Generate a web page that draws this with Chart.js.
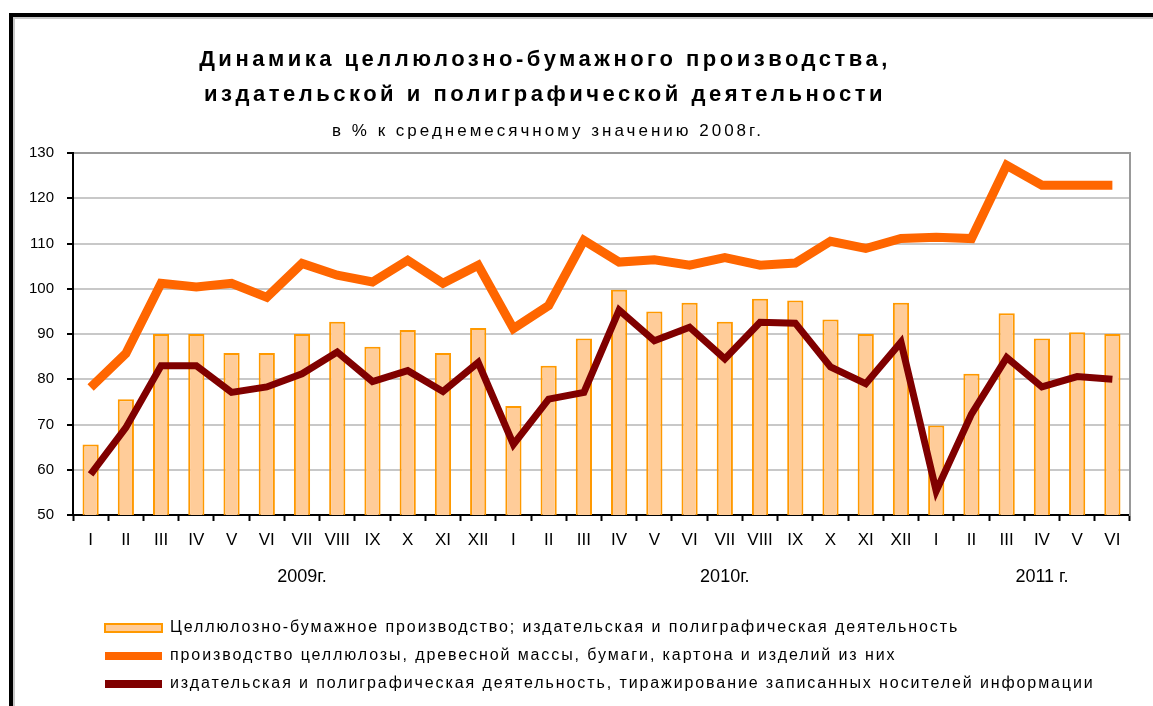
<!DOCTYPE html>
<html>
<head>
<meta charset="utf-8">
<script src="https://cdn.jsdelivr.net/npm/chart.js@4.4.1/dist/chart.umd.min.js"></script>
<style>
  html, body { margin: 0; padding: 0; background: #fff; }
  #wrap { position: relative; width: 1153px; height: 706px; overflow: hidden; }
  #frame { position: absolute; left: 9px; top: 13px; right: 0; bottom: 0; border-top: 4px solid #000; border-left: 4px solid #000; box-shadow: inset 2px 2px 0 #c8c8c8; }
  #chart { position: absolute; left: 0; top: 0; }
</style>
</head>
<body>
<div id="wrap">
  <div id="frame"></div>
  <canvas id="chart" width="1153" height="706"></canvas>
</div>
<script>
// months Jan 2009 .. Jun 2011
const monthLabels = ['I','II','III','IV','V','VI','VII','VIII','IX','X','XI','XII',
  'I','II','III','IV','V','VI','VII','VIII','IX','X','XI','XII',
  'I','II','III','IV','V','VI'];
const yearLabels = ['','','','','','','2009г.','','','','','',
  '','','','','','','2010г.','','','','','',
  '','','','2011 г.','',''];

// % of 2008 monthly average
const pulpPrintTotal = [65.6, 75.6, 90, 90, 85.8, 85.8, 90, 92.7, 87.2, 90.9, 85.8, 91.3,
  74.1, 83, 89, 99.8, 95, 96.9, 92.7, 97.8, 97.4, 93.2, 90, 96.9,
  69.8, 81.2, 94.6, 89, 90.4, 90];
const pulpPaper = [78.2, 85.7, 101.2, 100.4, 101.2, 98.1, 105.6, 103, 101.5, 106.3, 101.2, 105.2,
  91.2, 96.3, 110.7, 105.9, 106.4, 105.2, 106.9, 105.2, 105.7, 110.5, 108.9, 111.1,
  111.4, 111.1, 127.3, 122.9, 122.9, 122.9];
const printing = [59, 69.3, 83, 83, 77.1, 78.3, 81.2, 86, 79.5, 81.9, 77.3, 83.7,
  65.6, 75.6, 77.1, 95.3, 88.5, 91.5, 84.5, 92.6, 92.4, 82.7, 79, 88.2,
  55.3, 72.3, 84.8, 78.3, 80.6, 80];

const FONT = "'Liberation Sans', Arial, sans-serif";

// letter spacing / horizontal nudge for title, subtitle and legend boxes
const textTweak = {
  id: 'textTweak',
  afterInit(chart){
    chart.boxes.forEach(box => {
      let ls = '0px', dx = 0;
      if (box === chart.titleBlock) { ls = '3.5px'; dx = -20; }
      else if (box === chart.legend) {
        ls = '1.9px'; dx = 93;
        const fit = box.fit;
        box.fit = function(){ fit.call(this); this.height = 98; };
      }
      else { ls = '3px'; dx = -17; }
      const draw = box.draw;
      box.draw = function(area){
        const c = chart.ctx;
        c.save();
        c.letterSpacing = ls;
        c.translate(dx, 0);
        draw.call(this, area);
        c.restore();
      };
    });
  }
};

new Chart(document.getElementById('chart'), {
  type: 'bar',
  data: {
    labels: monthLabels,
    datasets: [
      { type: 'bar', label: 'Целлюлозно-бумажное производство; издательская и полиграфическая деятельность',
        data: pulpPrintTotal, backgroundColor: '#FFCC99', borderColor: '#FF9900', borderWidth: 2,
        barPercentage: 0.46, categoryPercentage: 1, order: 3 },
      { type: 'line', label: 'производство целлюлозы, древесной массы, бумаги, картона и изделий из них',
        data: pulpPaper, borderColor: '#FF6600', backgroundColor: '#FF6600', borderWidth: 9,
        pointRadius: 0, tension: 0, fill: false, order: 2 },
      { type: 'line', label: 'издательская и полиграфическая деятельность, тиражирование записанных носителей информации',
        data: printing, borderColor: '#800000', backgroundColor: '#800000', borderWidth: 7,
        pointRadius: 0, tension: 0, fill: false, order: 1 }
    ]
  },
  options: {
    responsive: false,
    animation: false,
    layout: { padding: { top: 0, right: 23, bottom: 0, left: 0 } },
    plugins: {
      tooltip: { enabled: false },
      title: {
        display: true,
        text: ['Динамика целлюлозно-бумажного производства,', 'издательской и полиграфической деятельности'],
        color: '#000',
        font: { family: FONT, size: 22, weight: 'bold', lineHeight: '35px' },
        padding: { top: 42, bottom: 0 }
      },
      subtitle: {
        display: true,
        text: 'в % к среднемесячному значению 2008г.',
        color: '#000',
        font: { family: FONT, size: 17, lineHeight: '18px' },
        padding: { top: 10, bottom: 13 }
      },
      legend: {
        position: 'bottom',
        align: 'start',
        labels: {
          color: '#000',
          font: { family: FONT, size: 16 },
          boxWidth: 57,
          boxHeight: 8,
          padding: 12,
          sort: (a, b) => a.datasetIndex - b.datasetIndex,
          generateLabels(chart){
            const items = Chart.defaults.plugins.legend.labels.generateLabels(chart);
            items.forEach(it => {
              const ds = chart.data.datasets[it.datasetIndex];
              if (ds.type === 'line') { it.lineWidth = 0; it.fillStyle = ds.borderColor; }
            });
            return items;
          }
        }
      }
    },
    scales: {
      x: {
        type: 'category',
        offset: true,
        grid: { display: true, drawOnChartArea: false, offset: true, tickColor: '#000', tickLength: 6, tickWidth: 2 },
        border: { display: true, color: '#000', width: 2 },
        ticks: { color: '#000', font: { family: FONT, size: 17 }, padding: 9, autoSkip: false, maxRotation: 0 },
        afterFit(s){ s.height = 45; }
      },
      x2: {
        type: 'category',
        position: 'bottom',
        labels: yearLabels,
        offset: true,
        weight: 1,
        grid: { display: false, drawTicks: false },
        border: { display: false },
        ticks: { color: '#000', font: { family: FONT, size: 18 }, padding: 6, autoSkip: false, maxRotation: 0 },
        afterFit(s){ s.height = 48; }
      },
      y: {
        min: 50,
        max: 130,
        ticks: { stepSize: 10, color: '#000', font: { family: FONT, size: 15 }, padding: 13 },
        grid: {
          color: c => (c.tick && c.tick.value === 130) ? '#999999' : '#c8c8c8',
          lineWidth: 2, tickColor: '#000', tickLength: 6, tickWidth: 2
        },
        border: { display: true, color: '#000', width: 2 },
        afterFit(s){ s.width = 73; }
      },
      y2: {
        position: 'right',
        min: 50,
        max: 130,
        grid: { drawOnChartArea: false, drawTicks: false },
        ticks: { display: false },
        border: { display: true, color: '#999999', width: 2 },
        afterFit(s){ s.width = 0; }
      }
    }
  },
  plugins: [textTweak]
});
</script>
</body>
</html>
